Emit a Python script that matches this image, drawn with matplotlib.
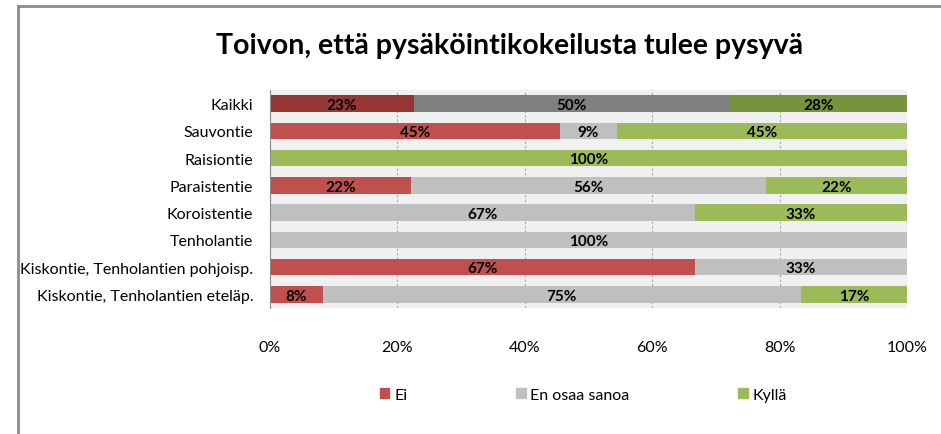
import matplotlib.pyplot as plt
from matplotlib.lines import Line2D
import numpy as np

plt.rcParams['font.family'] = ['Lato', 'DejaVu Sans']

title = "Toivon, että pysäköintikokeilusta tulee pysyvä"
categories = ["Kaikki", "Sauvontie", "Raisiontie", "Paraistentie", "Koroistentie",
              "Tenholantie", "Kiskontie, Tenholantien pohjoisp.",
              "Kiskontie, Tenholantien eteläp."]
series_names = ["Ei", "En osaa sanoa", "Kyllä"]
ei = [22.6, 45.45, 0, 22.2, 0, 0, 66.7, 8.3]
en_osaa = [49.6, 9.1, 0, 55.6, 66.7, 100, 33.3, 75.0]
kylla = [27.8, 45.45, 100, 22.2, 33.3, 0, 0, 16.7]
xticks = [0, 20, 40, 60, 80, 100]

colors = ["#C0504D", "#BFBFBF", "#9BBB59"]
dark_colors = ["#953735", "#7F7F7F", "#77933C"]  # Kaikki-rivi

fig = plt.figure(figsize=(9.41, 4.35), dpi=100)
ax = fig.add_axes([0.2869, 0.2897, 0.677, 0.5011])
ax.set_facecolor("#F0F0F0")

y = np.arange(len(categories))
left = np.zeros(len(categories))
for s, vals in enumerate([ei, en_osaa, kylla]):
    vals = np.array(vals)
    cols = [dark_colors[s] if i == 0 else colors[s] for i in range(len(vals))]
    ax.barh(y, vals, left=left, height=0.6, color=cols, label=series_names[s], zorder=2)
    for i, v in enumerate(vals):
        if v > 0:
            ax.text(left[i] + v / 2, y[i] + 0.05, "%.0f%%" % v, ha="center", va="center",
                    fontsize=11, fontweight="bold", color="black", zorder=3)
    left += vals

ax.set_xlim(0, 100)
ax.set_ylim(len(categories) - 0.5, -0.5)
ax.set_yticks(y)
ax.set_yticklabels(categories, fontsize=11.5)
ax.set_xticks(xticks)
ax.set_xticklabels(["%d%%" % t for t in xticks], fontsize=11.5)
ax.tick_params(axis="both", length=0)
ax.tick_params(axis="x", pad=23)
ax.tick_params(axis="y", pad=12)
ax.grid(axis="x", color="#A6A6A6", linestyle=(0, (2, 2)), linewidth=0.8, zorder=1)
for side in ["top", "right", "bottom"]:
    ax.spines[side].set_visible(False)
ax.spines["left"].set_color("#8C8C8C")
ax.spines["left"].set_zorder(4)

fig.text(0.542, 0.895, title, ha="center", va="center", fontsize=20.5, fontweight="bold")

handles = [plt.Rectangle((0, 0), 1, 1, color=c) for c in colors]
fig.legend(handles, series_names, loc="center", bbox_to_anchor=(0.62, 0.09), ncol=3,
           frameon=False, fontsize=11.5, handlelength=0.6, handleheight=0.6,
           handletextpad=0.3, columnspacing=6.8)

# ramit
fig.add_artist(Line2D([18 / 941, 18 / 941], [0, 1 - 7 / 435], color="#8C8C8C", linewidth=2))
fig.add_artist(Line2D([18 / 941, 1], [1 - 7 / 435, 1 - 7 / 435], color="#8C8C8C", linewidth=2))

fig.savefig("out.png", dpi=100)
